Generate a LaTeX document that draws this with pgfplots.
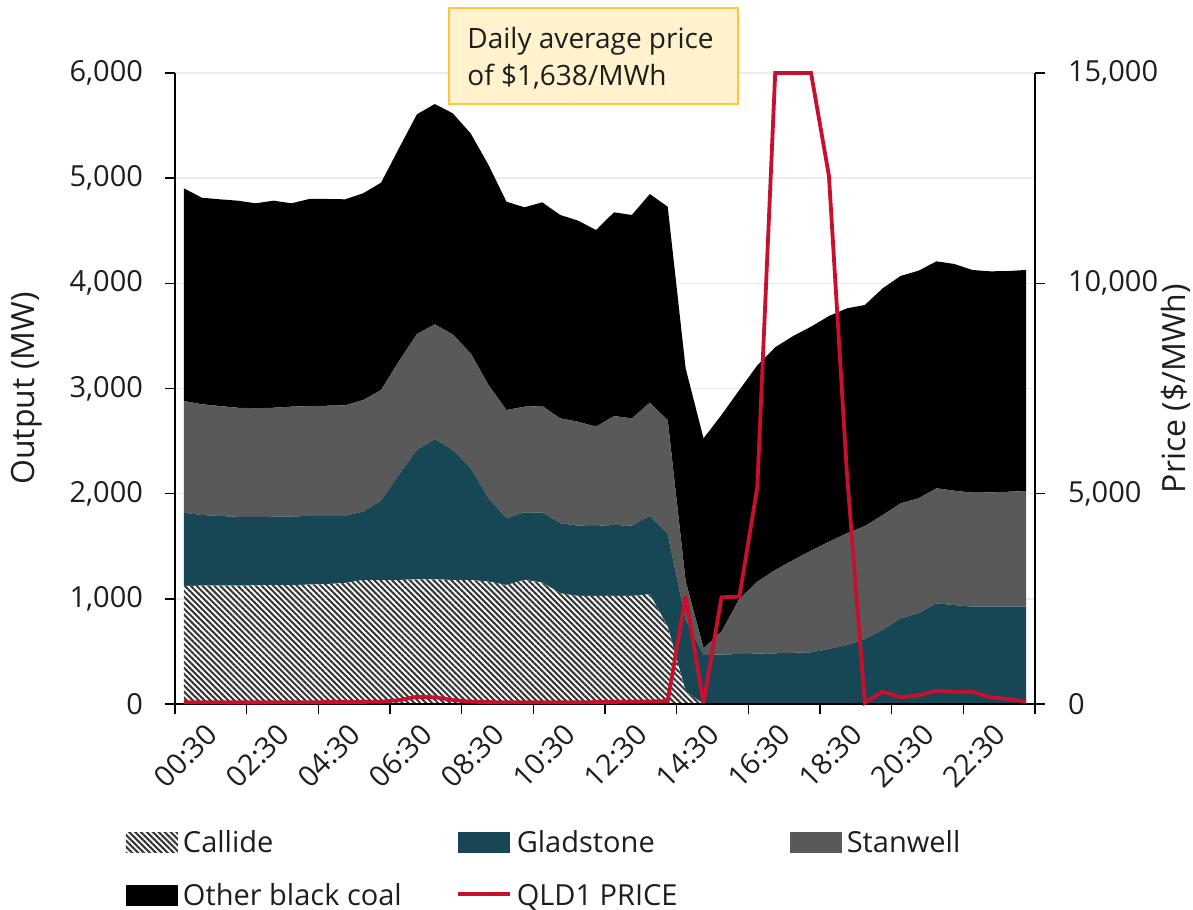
\documentclass[border=0pt]{standalone}
\usepackage{fontspec}
\setmainfont{Open Sans}
\usepackage{pgfplots}
\usepackage{pgfplotstable}
\pgfplotsset{compat=1.18}
\usetikzlibrary{patterns.meta}

\definecolor{gladcol}{RGB}{23,70,84}
\definecolor{stancol}{RGB}{89,89,89}
\definecolor{qldred}{RGB}{200,16,46}
\definecolor{hatchcol}{RGB}{55,55,55}
\definecolor{txtcol}{RGB}{30,30,30}
\definecolor{gridcol}{RGB}{236,236,236}
\definecolor{notefill}{RGB}{255,242,204}
\definecolor{noteborder}{RGB}{255,199,56}

\newcommand\axfont{\fontsize{14.5bp}{17bp}\selectfont}
\newcommand\labfont{\fontsize{16bp}{19bp}\selectfont}
\newcommand\notefont{\fontsize{14bp}{17bp}\selectfont}

\pgfplotsset{
  swatch/.style={legend image code/.code={\fill[##1] (0bp,-3.75bp) rectangle (26bp,6.5bp);}},
  priceleg/.style={legend image code/.code={\draw[##1] (0bp,2bp) -- (26bp,2bp);}},
}

\pgfplotstableread{
i callide glad stan other price
0 1122 697 1062 2022 45
1 1125 672 1053 1964 40
2 1125 663 1045 1966 40
3 1125 655 1037 1969 38
4 1128 650 1034 1949 38
5 1130 651 1036 1969 40
6 1130 653 1044 1934 42
7 1135 653 1045 1969 42
8 1140 648 1048 1966 45
9 1150 640 1050 1959 45
10 1179 650 1061 1966 50
11 1179 754 1053 1971 55
12 1179 998 1083 2024 90
13 1185 1230 1103 2089 170
14 1185 1332 1093 2095 160
15 1179 1236 1100 2102 95
16 1179 1062 1094 2091 55
17 1163 793 1077 2092 45
18 1131 635 1029 1981 40
19 1179 644 1004 1896 40
20 1154 665 1014 1937 40
21 1052 666 998 1934 40
22 1027 669 988 1912 40
23 1027 666 944 1870 45
24 1027 675 1036 1937 50
25 1027 669 1020 1934 55
26 1043 745 1077 1984 60
27 735 881 1084 2029 70
28 117 683 370 2022 2567
29 0 466 64 1996 20
30 0 470 218 2060 2536
31 0 475 525 1986 2551
32 0 479 684 2057 5150
33 0 482 792 2118 15000
34 0 487 882 2130 15000
35 0 491 967 2130 15000
36 0 523 1020 2146 12550
37 0 561 1062 2139 5500
38 0 615 1077 2102 30
39 0 704 1093 2156 292
40 0 815 1093 2162 159
41 0 862 1094 2164 207
42 0 957 1094 2158 316
43 0 941 1087 2156 292
44 0 925 1084 2118 292
45 0 925 1087 2102 159
46 0 925 1093 2099 119
47 0 925 1100 2102 55
}\gen

\begin{document}
\begin{tikzpicture}
\useasboundingbox (0,0) rectangle (596.5bp,455bp);

\begin{axis}[
  at={(87.5bp,103bp)}, anchor=south west,
  scale only axis, width=430bp, height=315.5bp,
  xmin=-0.5, xmax=47.5, ymin=0, ymax=6000,
  axis x line*=bottom, axis y line*=left,
  axis line style={line width=0.75bp, black},
  tick align=outside, major tick length=5bp,
  tick style={line width=0.75bp, black},
  xtick={-0.5,3.5,...,47.5}, xticklabels={},
  extra x ticks={0,4,...,44},
  extra x tick labels={00:30,02:30,04:30,06:30,08:30,10:30,12:30,14:30,16:30,18:30,20:30,22:30},
  extra x tick style={major tick length=0pt, xticklabel style={rotate=45, anchor=east, inner sep=0pt, yshift=-19bp, xshift=1bp}},
  ytick={0,1000,...,6000},
  ymajorgrids, grid style={line width=0.75bp, gridcol},
  yticklabel style={/pgf/number format/1000 sep={,}, xshift=-7.5bp},
  /pgf/number format/assume math mode=true,
  scaled y ticks=false,
  tick label style={font=\axfont, text=txtcol},
  ylabel={Output (MW)},
  ylabel style={at={(axis description cs:-0.172,0.5)}, anchor=center, font=\labfont, text=txtcol},
  stack plots=y,
  legend columns=3,
  legend cell align=left,
  legend style={at={(axis description cs:-0.057,-0.2021)}, anchor=north west,
    draw=none, fill=none, inner sep=0pt, outer sep=0pt,
    font=\axfont, text=txtcol, row sep=13bp, column sep=0pt,
    nodes={inner sep=0pt, text height=10.5bp, text depth=3bp}},
]
\addplot[swatch, draw=none, fill=white,
  postaction={pattern={Lines[angle=-45,distance=2.1pt,line width=1.05pt]}, pattern color=hatchcol}]
  table[x=i,y=callide]{\gen} \closedcycle;
\addlegendentry{\makebox[139bp][l]{\hspace{2.5bp}Callide}}
\addplot[swatch, draw=none, fill=gladcol] table[x=i,y=glad]{\gen} \closedcycle;
\addlegendentry{\makebox[139bp][l]{\hspace{2.5bp}Gladstone}}
\addplot[swatch, draw=none, fill=stancol] table[x=i,y=stan]{\gen} \closedcycle;
\addlegendentry{\makebox[139bp][l]{\hspace{2.5bp}Stanwell}}
\addplot[swatch, draw=none, fill=black] table[x=i,y=other]{\gen} \closedcycle;
\addlegendentry{\makebox[139bp][l]{\hspace{2.5bp}Other black coal}}
\addlegendimage{priceleg, qldred, line width=1.9bp}
\addlegendentry{\makebox[139bp][l]{\hspace{2.5bp}QLD1 PRICE}}
\end{axis}

\begin{axis}[
  at={(87.5bp,103bp)}, anchor=south west,
  scale only axis, width=430bp, height=315.5bp,
  xmin=-0.5, xmax=47.5, ymin=0, ymax=15000,
  axis x line*=bottom, axis y line*=right,
  axis line style={line width=0.75bp, black},
  tick align=outside, major tick length=5bp,
  tick style={line width=0.75bp, black},
  xtick=\empty,
  ytick={0,5000,10000,15000},
  scaled y ticks=false,
  yticklabel style={/pgf/number format/1000 sep={,}, xshift=8bp},
  /pgf/number format/assume math mode=true,
  tick label style={font=\axfont, text=txtcol},
  ylabel={Price (\$/MWh)},
  ylabel style={at={(axis description cs:1.164,0.5)}, anchor=center, font=\labfont, text=txtcol},
  clip=false,
]
\addplot[qldred, line width=1.9bp, line join=miter, miter limit=2] table[x=i,y=price]{\gen};
\end{axis}

\draw[noteborder, line width=1bp, fill=notefill] (224.5bp,403bp) rectangle (369bp,451bp);
\node[anchor=base west, inner sep=0pt, font=\notefont, text=txtcol] at (233.5bp,430.5bp) {Daily average price};
\node[anchor=base west, inner sep=0pt, font=\notefont, text=txtcol] at (233.5bp,412bp) {of \$1,638/MWh};
\end{tikzpicture}
\end{document}
